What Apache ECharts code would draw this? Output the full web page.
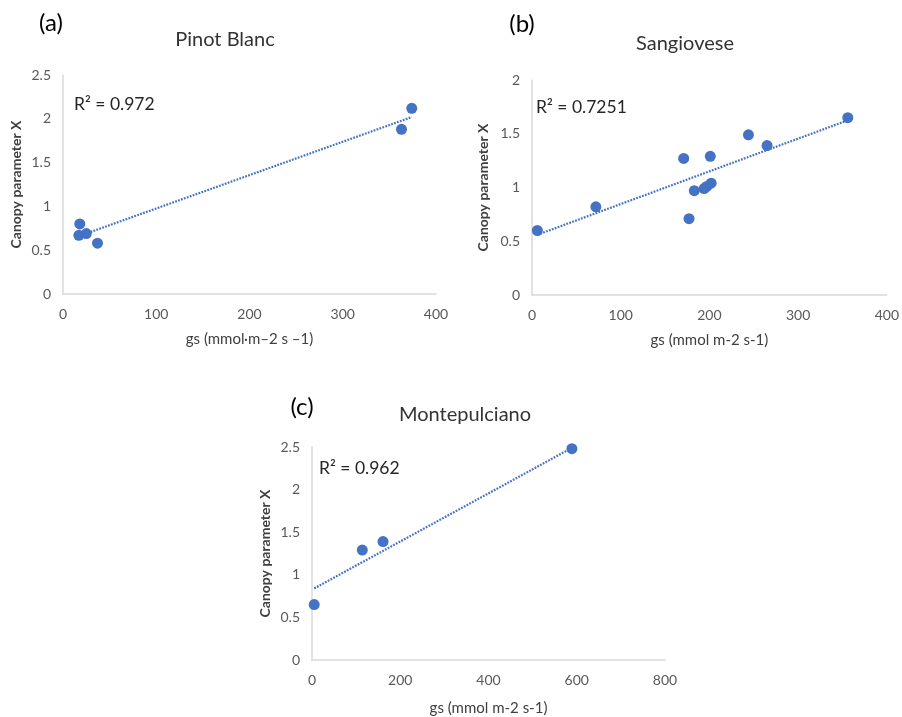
<!DOCTYPE html>
<html>
<head>
<meta charset="utf-8">
<script src="https://cdn.jsdelivr.net/npm/echarts@6/dist/echarts.min.js"></script>
<style>
  html, body { margin: 0; padding: 0; background: #fff; }
  #chart { width: 902px; height: 717px; }
</style>
</head>
<body>
<div id="chart"></div>
<script>
// (a) Pinot Blanc
var pinotX = [18, 17, 25, 37, 363, 374];
var pinotY = [0.80, 0.67, 0.69, 0.58, 1.88, 2.12];
var pinotTrendX = [17, 374];
var pinotTrendY = [0.66, 2.02];

// (b) Sangiovese
var sangX = [6, 72, 171, 177, 183, 194, 197, 202, 201, 244, 265, 356];
var sangY = [0.60, 0.82, 1.27, 0.71, 0.97, 0.99, 1.01, 1.04, 1.29, 1.49, 1.39, 1.65];
var sangTrendX = [6, 356];
var sangTrendY = [0.56, 1.625];

// (c) Montepulciano
var monteX = [5, 114, 161, 589];
var monteY = [0.65, 1.29, 1.39, 2.48];
var monteTrendX = [5, 589];
var monteTrendY = [0.84, 2.49];

var panelTags = ['(a)', '(b)', '(c)'];
var panelTitles = ['Pinot Blanc', 'Sangiovese', 'Montepulciano'];
var r2Labels = ['R\u00b2 = 0.972', 'R\u00b2 = 0.7251', 'R\u00b2 = 0.962'];
var xNames = ['gs (mmol\u00b7m\u20132 s \u20131)', 'gs (mmol m-2 s-1)', 'gs (mmol m-2 s-1)'];
var yName = 'Canopy parameter X';
var xMax = [400, 400, 800];
var xStep = [100, 100, 200];
var yMax = [2.5, 2, 2.5];

var FONT = 'Lato';
var BLUE = '#4472C4';

function zip(xs, ys) {
	var out = [];
	for (var i = 0; i < xs.length; i++) out.push([xs[i], ys[i]]);
	return out;
}

var grids = [
	{ left: 63, top: 75, width: 373, height: 219 },
	{ left: 532, top: 80, width: 356, height: 215 },
	{ left: 312, top: 447, width: 353, height: 217 }
];
var yGap = [40, 42, 40];
var xGap = [38, 38, 41];

var xAxes = [], yAxes = [];
for (var i = 0; i < 3; i++) {
	xAxes.push({
		gridIndex: i, type: 'value', min: 0, max: xMax[i], interval: xStep[i],
		name: xNames[i], nameLocation: 'middle', nameGap: xGap[i],
		nameTextStyle: { color: '#404040', fontSize: 15, fontFamily: FONT },
		axisLine: { show: true, lineStyle: { color: '#d9d9d9', width: 1.5 } },
		axisTick: { show: false },
		splitLine: { show: false },
		axisLabel: { color: '#595959', fontSize: 14, fontFamily: FONT, margin: 13 }
	});
	yAxes.push({
		gridIndex: i, type: 'value', min: 0, max: yMax[i], interval: 0.5,
		name: yName, nameLocation: 'middle', nameRotate: 90, nameGap: yGap[i],
		nameTextStyle: { color: '#404040', fontSize: 14, fontWeight: 'bold', fontFamily: FONT },
		axisLine: { show: true, lineStyle: { color: '#d9d9d9', width: 1.5 } },
		axisTick: { show: false },
		splitLine: { show: false },
		axisLabel: { color: '#595959', fontSize: 14, fontFamily: FONT, margin: 12 }
	});
}

var points = [zip(pinotX, pinotY), zip(sangX, sangY), zip(monteX, monteY)];
var trends = [zip(pinotTrendX, pinotTrendY), zip(sangTrendX, sangTrendY), zip(monteTrendX, monteTrendY)];

var series = [];
for (var i = 0; i < 3; i++) {
	series.push({
		type: 'line', xAxisIndex: i, yAxisIndex: i, data: trends[i],
		symbol: 'none', silent: true, z: 1,
		lineStyle: { color: BLUE, width: 2.2, type: [1.8, 1.3] }
	});
	series.push({
		type: 'scatter', xAxisIndex: i, yAxisIndex: i, data: points[i],
		symbolSize: 11, z: 2,
		itemStyle: { color: BLUE, opacity: 1 }
	});
}

// text positions
var tagPos = [[51, 23], [522, 24], [302, 407]];
var titlePos = [[225, 40], [685, 44], [465, 415]];
var r2Pos = [[74, 104], [536, 107], [319, 468]];

var texts = [];
for (var i = 0; i < 3; i++) {
	texts.push({
		type: 'text', x: tagPos[i][0], y: tagPos[i][1],
		style: { text: panelTags[i], fill: '#000', font: '24px ' + FONT, textAlign: 'center', textVerticalAlign: 'middle' }
	});
	texts.push({
		type: 'text', x: titlePos[i][0], y: titlePos[i][1],
		style: { text: panelTitles[i], fill: '#333', font: '20px ' + FONT, textAlign: 'center', textVerticalAlign: 'middle' }
	});
	texts.push({
		type: 'text', x: r2Pos[i][0], y: r2Pos[i][1],
		style: { text: r2Labels[i], fill: '#262626', font: '17.5px ' + FONT, textAlign: 'left', textVerticalAlign: 'middle' }
	});
}

var chart = echarts.init(document.getElementById('chart'));
chart.setOption({
	backgroundColor: '#fff',
	animation: false,
	grid: grids,
	xAxis: xAxes,
	yAxis: yAxes,
	series: series,
	graphic: texts
});
</script>
</body>
</html>
